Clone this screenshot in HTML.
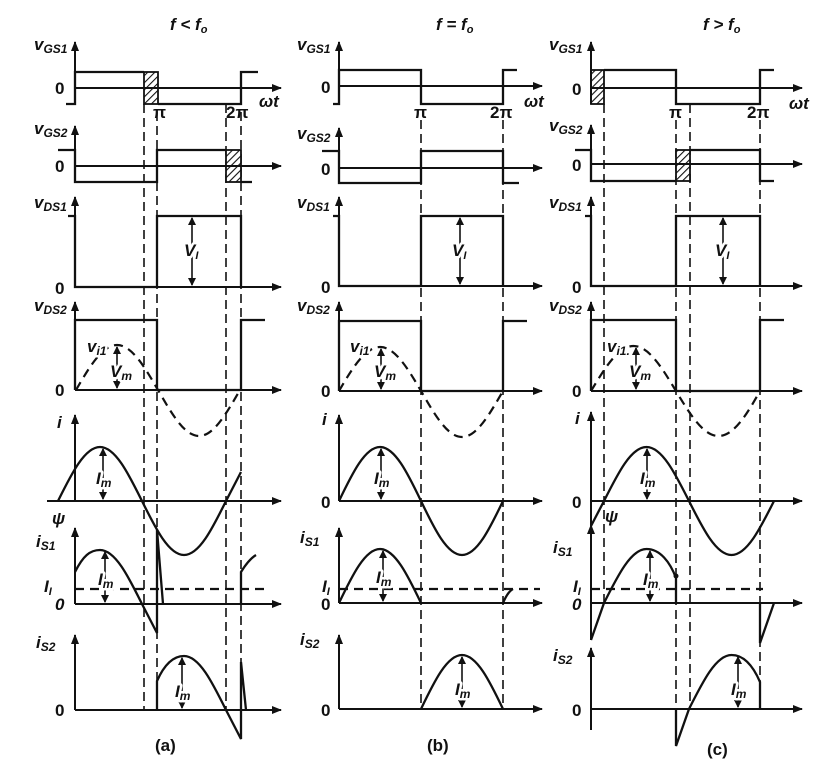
<!DOCTYPE html>
<html><head><meta charset="utf-8"><style>
body{margin:0;background:#fff}
svg{display:block}
text{font-family:"Liberation Sans",Arial,sans-serif;fill:#111;font-weight:bold}
.it{font-style:italic}
.h{paint-order:stroke;stroke:#fff;stroke-width:5px;stroke-linejoin:round}
</style></head><body>
<svg width="814" height="768" viewBox="0 0 814 768" xmlns="http://www.w3.org/2000/svg">
<defs>
<marker id="ar" markerWidth="10" markerHeight="8" refX="9" refY="4" orient="auto" markerUnits="userSpaceOnUse"><path d="M0 0 L10 4 L0 8 Z" fill="#111"/></marker>
<marker id="dar" markerWidth="8" markerHeight="8" refX="7" refY="4" orient="auto-start-reverse" markerUnits="userSpaceOnUse"><path d="M0 0 L8 4 L0 8 Z" fill="#111"/></marker>
<pattern id="hat" width="5" height="5" patternUnits="userSpaceOnUse" patternTransform="rotate(45)"><rect width="5" height="5" fill="#fff"/><line x1="0" y1="0" x2="0" y2="5" stroke="#111" stroke-width="2.2"/></pattern>
</defs>

<g stroke="#111" stroke-width="1.6" stroke-dasharray="9,5" fill="none">
<line x1="144" y1="104" x2="144" y2="710"/><line x1="157" y1="112" x2="157" y2="700"/>
<line x1="226" y1="104" x2="226" y2="710"/><line x1="241" y1="112" x2="241" y2="740"/>
<line x1="421" y1="120" x2="421" y2="709"/><line x1="503" y1="120" x2="503" y2="709"/>
<line x1="604" y1="104" x2="604" y2="603"/><line x1="676" y1="120" x2="676" y2="740"/>
<line x1="690" y1="104" x2="690" y2="709"/><line x1="760" y1="120" x2="760" y2="709"/>
</g>

<g stroke="#111" stroke-width="1.8">
<rect x="144" y="72" width="14" height="32" fill="url(#hat)"/>
<rect x="226" y="150" width="15" height="32" fill="url(#hat)"/>
<rect x="591" y="70" width="13" height="34" fill="url(#hat)"/>
<rect x="676" y="150" width="14" height="31" fill="url(#hat)"/>
</g>

<g stroke="#111" stroke-width="2" fill="none" marker-end="url(#ar)">
<line x1="75" y1="104" x2="75" y2="42"/><line x1="75" y1="182" x2="75" y2="126"/>
<line x1="75" y1="287" x2="75" y2="197"/><line x1="75" y1="390" x2="75" y2="302"/>
<line x1="75" y1="501" x2="75" y2="415"/><line x1="75" y1="604" x2="75" y2="528"/>
<line x1="75" y1="710" x2="75" y2="635"/>
<line x1="75" y1="88" x2="281" y2="88"/><line x1="75" y1="166" x2="281" y2="166"/>
<line x1="75" y1="287" x2="281" y2="287"/><line x1="75" y1="390" x2="281" y2="390"/>
<line x1="47" y1="501" x2="281" y2="501"/><line x1="75" y1="604" x2="281" y2="604"/>
<line x1="75" y1="710" x2="281" y2="710"/>

<line x1="339" y1="104" x2="339" y2="42"/><line x1="339" y1="183" x2="339" y2="128"/>
<line x1="339" y1="286" x2="339" y2="197"/><line x1="339" y1="391" x2="339" y2="302"/>
<line x1="339" y1="501" x2="339" y2="415"/><line x1="339" y1="603" x2="339" y2="528"/>
<line x1="339" y1="709" x2="339" y2="635"/>
<line x1="339" y1="86" x2="542" y2="86"/><line x1="339" y1="168" x2="542" y2="168"/>
<line x1="339" y1="286" x2="542" y2="286"/><line x1="339" y1="391" x2="542" y2="391"/>
<line x1="339" y1="501" x2="542" y2="501"/><line x1="339" y1="603" x2="542" y2="603"/>
<line x1="339" y1="709" x2="542" y2="709"/>

<line x1="591" y1="104" x2="591" y2="42"/><line x1="591" y1="181" x2="591" y2="125"/>
<line x1="591" y1="286" x2="591" y2="197"/><line x1="591" y1="391" x2="591" y2="302"/>
<line x1="591" y1="535" x2="591" y2="412"/><line x1="591" y1="640" x2="591" y2="525"/>
<line x1="591" y1="730" x2="591" y2="648"/>
<line x1="591" y1="88" x2="802" y2="88"/><line x1="591" y1="164" x2="802" y2="164"/>
<line x1="591" y1="286" x2="802" y2="286"/><line x1="591" y1="391" x2="802" y2="391"/>
<line x1="591" y1="501" x2="802" y2="501"/><line x1="591" y1="603" x2="802" y2="603"/>
<line x1="591" y1="709" x2="802" y2="709"/>
</g>

<g stroke="#111" stroke-width="2.3" fill="none">
<path d="M66 104 L75 104 L75 72 L144 72 M158 104 L241 104 L241 72 L258 72"/>
<path d="M58 150 L75 150 L75 182 L157 182 L157 150 L226 150 M241 182 L252 182"/>
<path d="M68 216 L75 216 L75 287 L157 287 L157 216 L241 216 L241 287"/>
<path d="M75 390 L75 320 L157 320 L157 390 L241 390 L241 320 L265 320"/>

<path d="M333 104 L339 104 L339 70 L421 70 L421 104 L503 104 L503 70 L517 70"/>
<path d="M322 151 L339 151 L339 183 L421 183 L421 151 L503 151 L503 183 L519 183"/>
<path d="M333 216 L339 216 L339 286 L421 286 L421 216 L503 216 L503 286"/>
<path d="M339 391 L339 321 L421 321 L421 391 L503 391 L503 321 L527 321"/>

<path d="M604 70 L676 70 L676 104 L760 104 L760 70 L774 70"/>
<path d="M575 150 L591 150 L591 181 L676 181 M690 150 L760 150 L760 181 L774 181"/>
<path d="M585 216 L591 216 L591 286 L676 286 L676 216 L760 216 L760 286"/>
<path d="M591 391 L591 320 L676 320 L676 391 L760 391 L760 320 L784 320"/>
</g>

<g stroke="#111" stroke-width="2.2" fill="none" stroke-dasharray="9,6">
<path d="M76 390 C89.4 367 102.2 345 117 345 C131.8 345 144.6 367 158 390 C171.4 413 184.2 436 199 436 C213.8 436 226.6 413 240 390"/>
<path d="M339 391 C352.4 368 365.2 347 380 347 C394.8 347 407.6 368 421 391 C434.4 414 447.2 437 462 437 C476.8 437 489.6 414 503 391"/>
<path d="M591 391 C604.9 368 618.1 346 633.5 346 C648.9 346 662.1 368 676 391 C689.9 414 703.1 436 718.5 436 C733.9 436 747.1 414 760 391"/>
<path d="M75 589 L270 589"/>
<path d="M339 589 L540 589"/>
<path d="M591 589 L763 589"/>
</g>

<g stroke="#111" stroke-width="2.3" fill="none">
<path d="M58 501 C71.7 473.3 84.8 447 100 447 C115.2 447 128.3 473.3 142 501 C155.7 528.7 168.8 555 184 555 C199.2 555 212.3 528.7 226 501 L241 472"/>
<path d="M75 572 C83 556 90 550 100 550 C115.2 550 128.3 576.3 142 604 L157 633 L157 530 L163 604 M241 604 L241 572 C246 564 251 558 256 555"/>
<path d="M157 710 L157 681 C165 663 174 656 184 656 C199.2 656 212.3 682.3 226 710 L241 739 L241 662 L246 710"/>

<path d="M339 501 C352.4 473 365.2 447 380 447 C394.8 447 407.6 473 421 501 C434.4 529 447.2 555 462 555 C476.8 555 489.6 529 503 501"/>
<path d="M339 603 C352.4 575 365.2 549 380 549 C394.8 549 407.6 575 421 603 M503 603 C506 596 509 591 513 589"/>
<path d="M421 709 C434.4 681 447.2 655 462 655 C476.8 655 489.6 681 503 709"/>

<path d="M591 526 L604 501 C617.9 473.3 631.1 447 646.5 447 C661.9 447 675.1 473.3 689 501 C702.9 528.7 716.1 555 731.5 555 C746.9 555 760.1 528.7 774 501"/>
<path d="M591 640 L604 603 C617.9 575.3 631.1 549 646.5 549 C660 549 670 562 676 578 L676 603 M760 603 L760 643 L774 603"/>
<path d="M676 709 L676 746 L689 709 C702.9 681.3 716.1 655 731.5 655 C745 655 754 668 760 682 L760 709"/>
</g>
<circle cx="676" cy="576" r="2.5" fill="#111"/>

<g stroke="#111" stroke-width="1.6" fill="none" marker-start="url(#dar)" marker-end="url(#dar)">
<line x1="192" y1="218" x2="192" y2="285"/><line x1="460" y1="218" x2="460" y2="284"/><line x1="723" y1="218" x2="723" y2="284"/>
<line x1="117" y1="347" x2="117" y2="388"/><line x1="381" y1="349" x2="381" y2="389"/><line x1="636" y1="348" x2="636" y2="389"/>
<line x1="103" y1="449" x2="103" y2="499"/><line x1="381" y1="449" x2="381" y2="499"/><line x1="647" y1="449" x2="647" y2="499"/>
<line x1="105" y1="552" x2="105" y2="602"/><line x1="383" y1="551" x2="383" y2="601"/><line x1="650" y1="551" x2="650" y2="601"/>
<line x1="182" y1="658" x2="182" y2="708"/><line x1="462" y1="657" x2="462" y2="707"/><line x1="738" y1="657" x2="738" y2="707"/>
</g>

<g font-size="17">
<text x="170" y="30" class="it">f &lt; f<tspan font-size="11" dy="3">o</tspan></text>
<text x="436" y="30" class="it">f = f<tspan font-size="11" dy="3">o</tspan></text>
<text x="703" y="30" class="it">f &gt; f<tspan font-size="11" dy="3">o</tspan></text>

<text x="34" y="50" class="it">v<tspan font-size="12" dy="3">GS1</tspan></text>
<text x="34" y="134" class="it">v<tspan font-size="12" dy="3">GS2</tspan></text>
<text x="34" y="208" class="it">v<tspan font-size="12" dy="3">DS1</tspan></text>
<text x="34" y="311" class="it">v<tspan font-size="12" dy="3">DS2</tspan></text>
<text x="57" y="428" class="it">i</text>
<text x="36" y="547" class="it">i<tspan font-size="12" dy="3">S1</tspan></text>
<text x="36" y="648" class="it">i<tspan font-size="12" dy="3">S2</tspan></text>
<text x="55" y="94">0</text><text x="55" y="172">0</text><text x="55" y="294">0</text><text x="55" y="396">0</text>
<text x="52" y="524" class="it">ψ</text>
<text x="44" y="592" class="it">I<tspan font-size="11" dy="3">I</tspan></text>
<text x="55" y="610" class="it">0</text><text x="55" y="716">0</text>
<text x="153" y="118">π</text><text x="226" y="118">2π</text>
<text x="259" y="107" class="it">ωt</text>
<text x="184" y="256" class="it h">V<tspan font-size="11" dy="3">I</tspan></text>
<text x="87" y="352" class="it h">v<tspan font-size="12" dy="3">i1</tspan></text>
<text x="110" y="377" class="it h">V<tspan font-size="12" dy="3">m</tspan></text>
<text x="96" y="484" class="it h">I<tspan font-size="12" dy="3">m</tspan></text>
<text x="98" y="585" class="it h">I<tspan font-size="12" dy="3">m</tspan></text>
<text x="175" y="697" class="it h">I<tspan font-size="12" dy="3">m</tspan></text>
<text x="155" y="751">(a)</text>

<text x="297" y="50" class="it">v<tspan font-size="12" dy="3">GS1</tspan></text>
<text x="297" y="139" class="it">v<tspan font-size="12" dy="3">GS2</tspan></text>
<text x="297" y="208" class="it">v<tspan font-size="12" dy="3">DS1</tspan></text>
<text x="297" y="311" class="it">v<tspan font-size="12" dy="3">DS2</tspan></text>
<text x="322" y="425" class="it">i</text>
<text x="300" y="543" class="it">i<tspan font-size="12" dy="3">S1</tspan></text>
<text x="300" y="645" class="it">i<tspan font-size="12" dy="3">S2</tspan></text>
<text x="321" y="93">0</text><text x="321" y="175">0</text><text x="321" y="293">0</text><text x="321" y="397">0</text>
<text x="321" y="508">0</text>
<text x="322" y="592" class="it">I<tspan font-size="11" dy="3">I</tspan></text>
<text x="321" y="610">0</text><text x="321" y="716">0</text>
<text x="414" y="118">π</text><text x="490" y="118">2π</text>
<text x="524" y="107" class="it">ωt</text>
<text x="452" y="256" class="it h">V<tspan font-size="11" dy="3">I</tspan></text>
<text x="350" y="352" class="it h">v<tspan font-size="12" dy="3">i1</tspan></text>
<text x="374" y="377" class="it h">V<tspan font-size="12" dy="3">m</tspan></text>
<text x="374" y="484" class="it h">I<tspan font-size="12" dy="3">m</tspan></text>
<text x="376" y="583" class="it h">I<tspan font-size="12" dy="3">m</tspan></text>
<text x="455" y="695" class="it h">I<tspan font-size="12" dy="3">m</tspan></text>
<text x="427" y="751">(b)</text>

<text x="549" y="50" class="it">v<tspan font-size="12" dy="3">GS1</tspan></text>
<text x="549" y="131" class="it">v<tspan font-size="12" dy="3">GS2</tspan></text>
<text x="549" y="208" class="it">v<tspan font-size="12" dy="3">DS1</tspan></text>
<text x="549" y="311" class="it">v<tspan font-size="12" dy="3">DS2</tspan></text>
<text x="575" y="424" class="it">i</text>
<text x="553" y="553" class="it">i<tspan font-size="12" dy="3">S1</tspan></text>
<text x="553" y="661" class="it">i<tspan font-size="12" dy="3">S2</tspan></text>
<text x="572" y="95">0</text><text x="572" y="171">0</text><text x="572" y="293">0</text><text x="572" y="397">0</text>
<text x="572" y="508">0</text>
<text x="605" y="522" class="it">ψ</text>
<text x="573" y="592" class="it">I<tspan font-size="11" dy="3">I</tspan></text>
<text x="572" y="610" class="it">0</text><text x="572" y="716">0</text>
<text x="669" y="118">π</text><text x="747" y="118">2π</text>
<text x="789" y="109" class="it">ωt</text>
<text x="715" y="256" class="it h">V<tspan font-size="11" dy="3">I</tspan></text>
<text x="607" y="352" class="it h">v<tspan font-size="12" dy="3">i1.</tspan></text>
<text x="629" y="377" class="it h">V<tspan font-size="12" dy="3">m</tspan></text>
<text x="640" y="484" class="it h">I<tspan font-size="12" dy="3">m</tspan></text>
<text x="643" y="585" class="it h">I<tspan font-size="12" dy="3">m</tspan></text>
<text x="731" y="695" class="it h">I<tspan font-size="12" dy="3">m</tspan></text>
<text x="707" y="755">(c)</text>
</g>
</svg>
</body></html>
